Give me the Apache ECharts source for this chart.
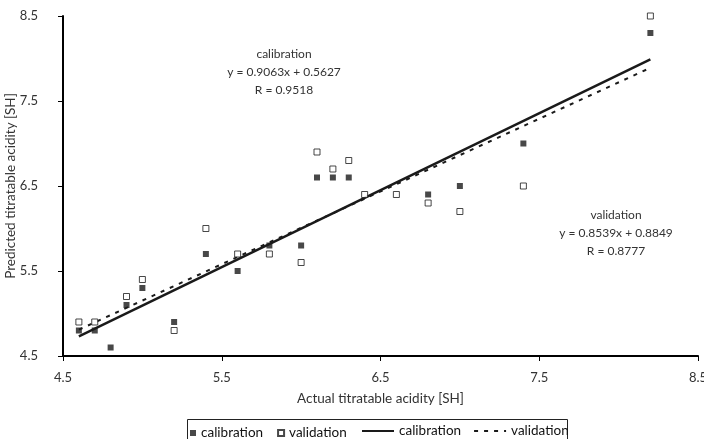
<!DOCTYPE html>
<html>
<head>
<meta charset="utf-8">
<script src="https://cdn.jsdelivr.net/npm/echarts@6/dist/echarts.min.js"></script>
<style>html,body{margin:0;padding:0;background:#fff}#c{width:704px;height:439px}</style>
</head>
<body>
<div id="c"></div>
<script>
// ---- data ----
const calX = [4.6, 4.7, 4.8, 4.9, 5.0, 5.2, 5.4, 5.6, 5.8, 6.0, 6.1, 6.2, 6.3, 6.8, 7.0, 7.4, 8.2];
const calY = [4.8, 4.8, 4.6, 5.1, 5.3, 4.9, 5.7, 5.5, 5.8, 5.8, 6.6, 6.6, 6.6, 6.4, 6.5, 7.0, 8.3];
const valX = [4.6, 4.7, 4.9, 5.0, 5.2, 5.4, 5.6, 5.8, 6.0, 6.1, 6.2, 6.3, 6.4, 6.6, 6.8, 7.0, 7.4, 8.2];
const valY = [4.9, 4.9, 5.2, 5.4, 4.8, 6.0, 5.7, 5.7, 5.6, 6.9, 6.7, 6.8, 6.4, 6.4, 6.3, 6.2, 6.5, 8.5];
const calLineX = [4.6, 8.2];
const calLineY = [4.73, 7.99];
const valLineX = [4.6, 8.2];
const valLineY = [4.81, 7.89];
const tickValues = [4.5, 5.5, 6.5, 7.5, 8.5];
const calText = ['calibration', 'y = 0.9063x + 0.5627', 'R = 0.9518'];
const valText = ['validation', 'y = 0.8539x + 0.8849', 'R = 0.8777'];
const xName = 'Actual titratable acidity [SH]';
const yName = 'Predicted titratable acidity [SH]';

const zip = (a, b) => a.map((v, i) => [v, b[i]]);
const FONT = 'Lato';
const TXT = '#333';
const INK = '#1a1a1a';

const chart = echarts.init(document.getElementById('c'), null, {renderer: 'canvas'});
const axisCommon = {
  type: 'value', min: 4.5, max: 8.5,
  splitLine: {show: false},
  axisLine: {show: true, onZero: false, lineStyle: {color: '#000', width: 2}},
  axisTick: {show: true, length: 5, lineStyle: {color: '#000', width: 1}, customValues: tickValues},
  axisLabel: {color: TXT, fontFamily: FONT, fontSize: 13, customValues: tickValues,
              formatter: v => Number(v).toFixed(1)},
  nameLocation: 'middle',
  nameMoveOverlap: false,
  nameTextStyle: {color: TXT, fontFamily: FONT, fontSize: 13.5}
};
chart.setOption({
  animation: false,
  grid: {left: 63, right: 6, top: 16, bottom: 83, containLabel: false, outerBoundsMode: 'none'},
  xAxis: Object.assign({}, axisCommon, {name: xName, nameGap: 36,
    axisLabel: Object.assign({}, axisCommon.axisLabel, {margin: 15})}),
  yAxis: Object.assign({}, axisCommon, {name: yName, nameGap: 45,
    axisLabel: Object.assign({}, axisCommon.axisLabel, {margin: 25})}),
  legend: [
    {data: ['calibration', 'validation'], left: 185, top: 421, itemWidth: 6, itemHeight: 6, itemGap: 14,
     textStyle: {color: '#111', fontFamily: FONT, fontSize: 13.5}, selectedMode: false},
    {data: ['calibration (line)', 'validation (line)'], left: 356, top: 419, itemWidth: 32, itemHeight: 10, itemGap: 12,
     formatter: n => n.replace(' (line)', ''),
     itemStyle: {color: 'rgba(0,0,0,0)', borderWidth: 0},
     textStyle: {color: '#111', fontFamily: FONT, fontSize: 13.5}, selectedMode: false}
  ],
  graphic: [
    {type: 'rect', left: 185, top: 417, shape: {width: 380, height: 30}, silent: true,
     style: {fill: 'none', stroke: '#222', lineWidth: 1}},
    {type: 'text', x: 284, y: 45, silent: true,
     style: {text: calText.join('\n'), align: 'center', verticalAlign: 'top', lineHeight: 18,
             fill: TXT, font: '12px ' + FONT}},
    {type: 'text', x: 616, y: 206, silent: true,
     style: {text: valText.join('\n'), align: 'center', verticalAlign: 'top', lineHeight: 18,
             fill: TXT, font: '12px ' + FONT}}
  ],
  series: [
    {name: 'calibration (line)', type: 'line', data: zip(calLineX, calLineY), showSymbol: false, symbol: 'none',
     lineStyle: {color: INK, width: 2.5, type: 'solid'}, itemStyle: {color: INK}, z: 2},
    {name: 'validation (line)', type: 'line', data: zip(valLineX, valLineY), showSymbol: false, symbol: 'none',
     lineStyle: {color: INK, width: 2, type: [4, 6]}, itemStyle: {color: INK}, z: 2},
    {name: 'calibration', type: 'scatter', data: zip(calX, calY), symbol: 'rect', symbolSize: 6,
     itemStyle: {color: INK}, z: 3},
    {name: 'validation', type: 'scatter', data: zip(valX, valY), symbol: 'rect', symbolSize: 6,
     itemStyle: {color: '#fff', borderColor: INK, borderWidth: 1}, z: 3}
  ]
});
</script>
</body>
</html>
